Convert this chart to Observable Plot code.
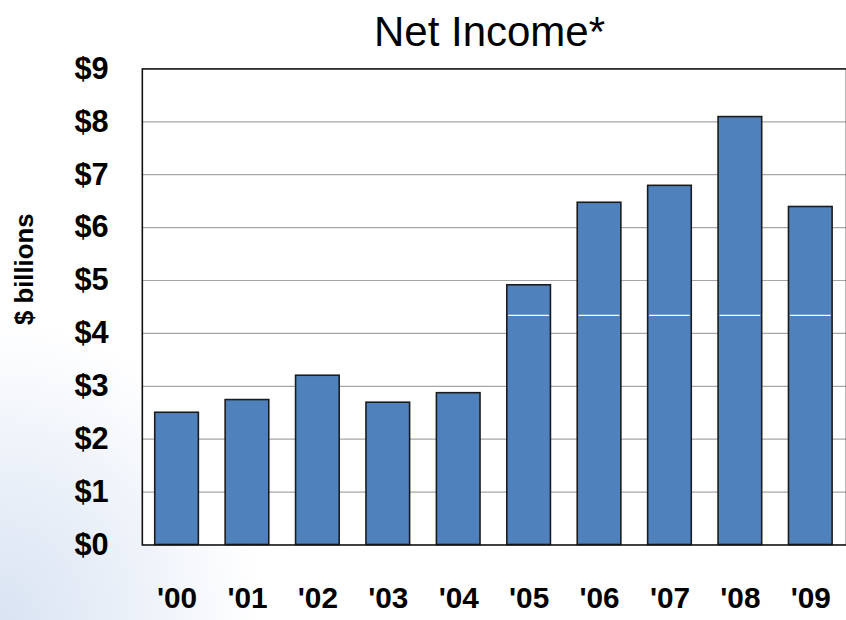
<!DOCTYPE html>
<html>
<head>
<meta charset="utf-8">
<script src="https://cdn.jsdelivr.net/npm/d3@7"></script>
<script src="https://cdn.jsdelivr.net/npm/@observablehq/plot@0.6"></script>
<style>
  html, body { margin: 0; padding: 0; }
  body {
    width: 846px; height: 620px; overflow: hidden; position: relative;
    background: radial-gradient(ellipse 260px 300px at 0% 100%, #d9e3f2 0%, #e9eff8 45%, #ffffff 100%);
    font-family: "Liberation Sans Narrow", "Liberation Sans", Arial, sans-serif;
  }
  #title {
    position: absolute; top: 7px; left: 133px; width: 713px; text-align: center;
    font-size: 42px; line-height: 50px; color: #000;
  }
  #chart { position: absolute; top: 0; left: 0; }
</style>
</head>
<body>
<div id="title">Net Income*</div>
<div id="chart"></div>
<script>
const years = ["'00","'01","'02","'03","'04","'05","'06","'07","'08","'09"];
const netIncome = [2.5, 2.74, 3.2, 2.69, 2.87, 4.91, 6.47, 6.79, 8.09, 6.39];
const yTicks = [0,1,2,3,4,5,6,7,8,9];
const yLabel = "$ billions";
const whiteLine = 4.34;

const data = years.map((year, i) => ({year, value: netIncome[i]}));

const chart = Plot.plot({
  width: 853,
  height: 620,
  marginTop: 69,
  marginBottom: 71,
  marginLeft: 143,
  marginRight: 0,
  style: {background: "transparent", fontFamily: "'Liberation Sans Narrow', 'Liberation Sans', Arial, sans-serif", color: "#000"},
  x: {domain: years, paddingInner: 0.38, paddingOuter: 0.19},
  y: {domain: [0, 9]},
  marks: [
    Plot.frame({fill: "white", stroke: null}),
    Plot.gridY({ticks: yTicks.filter(t => t > 0 && t < 9), stroke: "#a6a6a6", strokeOpacity: 1, strokeWidth: 1.2}),
    Plot.barY(data, {x: "year", y: "value", fill: "#4F81BD", stroke: "#1b1b1b", strokeWidth: 1.6}),
    Plot.tickY(data.filter(d => d.value > whiteLine), {x: "year", y: () => whiteLine, stroke: "white", strokeWidth: 1.3, inset: 1.5}),
    Plot.frame({stroke: "#111", strokeWidth: 1.6}),
    Plot.axisY({ticks: yTicks, tickFormat: d => "$" + d, tickSize: 0, tickPadding: 34, fontSize: 31, fontWeight: "bold", label: null}),
    Plot.axisX({tickSize: 0, tickPadding: 42, fontSize: 30, fontWeight: "bold", label: null}),
    Plot.text([yLabel], {text: d => d, frameAnchor: "left", textAnchor: "middle", lineAnchor: "middle", rotate: -90, dx: -119, dy: -38, fontSize: 26, fontWeight: "bold"})
  ]
});
document.getElementById("chart").appendChild(chart);
</script>
</body>
</html>
